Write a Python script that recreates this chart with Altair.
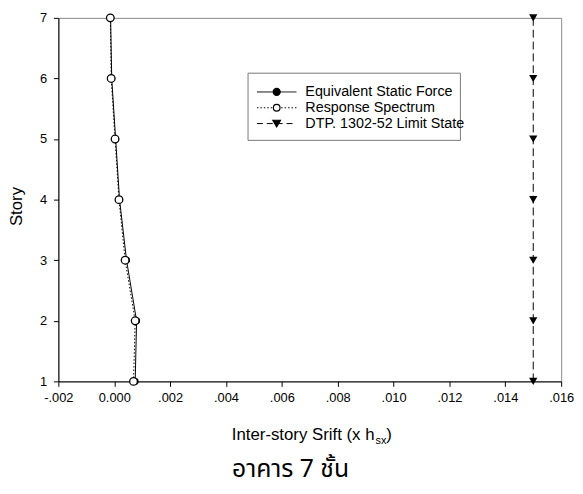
import altair as alt
import pandas as pd

# ---------------- data ----------------
stories = [1, 2, 3, 4, 5, 6, 7]
esf_drift = [0.00075, 0.00080, 0.00044, 0.00019, 0.00005, -0.00009, -0.00013]
rs_drift = [0.00069, 0.00075, 0.00039, 0.00017, 0.00003, -0.00011, -0.00014]
limit_drift = [0.015, 0.015, 0.015, 0.015, 0.015, 0.015, 0.015]

series_names = ["Equivalent Static Force", "Response Spectrum", "DTP. 1302-52 Limit State"]

x_ticks = [-0.002, 0.0, 0.002, 0.004, 0.006, 0.008, 0.010, 0.012, 0.014, 0.016]
x_tick_labels = ["-.002", "0.000", ".002", ".004", ".006", ".008", ".010", ".012", ".014", ".016"]
y_ticks = [1, 2, 3, 4, 5, 6, 7]

x_title_main = "Inter-story Srift (x h"
x_title_sub = "sx"
x_title_end = ")"
y_title = "Story"
chart_title = "อาคาร 7 ชั้น"

FONT = "Liberation Sans"
W, H = 509, 368

esf = pd.DataFrame({"story": stories, "drift": esf_drift})
rs = pd.DataFrame({"story": stories, "drift": rs_drift})
lim = pd.DataFrame({"story": stories, "drift": limit_drift})

# label expression built from the tick lists
expr = "''"
for v, lab in reversed(list(zip(x_ticks, x_tick_labels))):
    expr = f"(abs(datum.value - ({v})) < 1e-9 ? '{lab}' : {expr})"

xscale = alt.Scale(domain=[x_ticks[0], x_ticks[-1]], nice=False, zero=False)
yscale = alt.Scale(domain=[y_ticks[0], y_ticks[-1]], nice=False, zero=False)

xaxis = alt.Axis(values=x_ticks, labelExpr=expr, title=None, grid=False,
                 tickSize=5, tickColor="black", domainColor="black",
                 labelFont=FONT, labelFontSize=13, labelColor="black",
                 labelPadding=5, labelFlush=False)
yaxis = alt.Axis(values=y_ticks, format="d", title=None, grid=False,
                 tickSize=5, tickColor="black", domainColor="black",
                 labelFont=FONT, labelFontSize=13, labelColor="black",
                 labelPadding=7)

X = alt.X("drift:Q", scale=xscale, axis=xaxis)
Y = alt.Y("story:Q", scale=yscale, axis=yaxis)

esf_line = alt.Chart(esf).mark_line(color="black", strokeWidth=1).encode(x=X, y=Y, order="story:Q")
esf_pts = alt.Chart(esf).mark_point(shape="circle", filled=True, fill="black", color="black",
                                    size=50, opacity=1).encode(x=X, y=Y)
rs_line = alt.Chart(rs).mark_line(color="black", strokeWidth=1, strokeDash=[1.5, 2]).encode(x=X, y=Y, order="story:Q")
rs_pts = alt.Chart(rs).mark_point(shape="circle", filled=False, fill="white", stroke="black",
                                  strokeWidth=1.3, size=60, opacity=1, fillOpacity=1).encode(x=X, y=Y)
lim_line = alt.Chart(lim).mark_line(color="black", strokeWidth=1, strokeDash=[8, 4]).encode(x=X, y=Y, order="story:Q")
lim_pts = alt.Chart(lim).mark_point(shape="triangle-down", filled=True, fill="black", color="black",
                                    size=70, opacity=1).encode(x=X, y=Y)

layers = [esf_line, esf_pts, rs_line, rs_pts, lim_line, lim_pts]

# ---------------- legend (drawn by hand) ----------------
one = pd.DataFrame({"a": [0]})
box = alt.Chart(one).mark_rect(fill="white", stroke="#777", strokeWidth=1).encode(
    x=alt.value(192), x2=alt.value(407), y=alt.value(56), y2=alt.value(124))
layers.append(box)
styles = [
    dict(dash=[1, 0], shape="circle", fill="black", size=50),
    dict(dash=[1.5, 2], shape="circle", fill="white", size=45),
    dict(dash=[6, 4], shape="triangle-down", fill="black", size=60),
]
row_y = [75, 91, 107]
for name, st, ry in zip(series_names, styles, row_y):
    layers.append(alt.Chart(one).mark_rule(color="black", strokeWidth=1, strokeDash=st["dash"]).encode(
        x=alt.value(201), x2=alt.value(241), y=alt.value(ry)))
    layers.append(alt.Chart(one).mark_point(shape=st["shape"], filled=True, fill=st["fill"], stroke="black",
                                            strokeWidth=1.2, size=st["size"], opacity=1).encode(
        x=alt.value(221), y=alt.value(ry)))
    layers.append(alt.Chart(one).mark_text(text=name, font=FONT, fontSize=14.5, align="left",
                                           baseline="middle", color="black").encode(
        x=alt.value(250), y=alt.value(ry)))

# ---------------- titles ----------------
layers.append(alt.Chart(one).mark_text(text=x_title_main, font=FONT, fontSize=17, align="right",
                                       baseline="alphabetic", color="black").encode(
    x=alt.value(320), y=alt.value(427)))
layers.append(alt.Chart(one).mark_text(text=x_title_sub, font=FONT, fontSize=11, align="left",
                                       baseline="alphabetic", color="black").encode(
    x=alt.value(321), y=alt.value(431)))
layers.append(alt.Chart(one).mark_text(text=x_title_end, font=FONT, fontSize=17, align="left",
                                       baseline="alphabetic", color="black").encode(
    x=alt.value(332), y=alt.value(427)))
layers.append(alt.Chart(one).mark_text(text=y_title, font=FONT, fontSize=17, align="center",
                                       baseline="middle", angle=270, color="black").encode(
    x=alt.value(-42), y=alt.value(191)))
layers.append(alt.Chart(one).mark_text(text=chart_title, font="Tahoma, 'Noto Sans Thai', 'Loma', 'Garuda', sans-serif",
                                       fontSize=25, align="center", baseline="alphabetic", color="black").encode(
    x=alt.value(235), y=alt.value(465)))

chart = alt.layer(*layers).properties(
    width=W, height=H,
    autosize=alt.AutoSizeParams(type="none"),
    padding={"left": 51, "top": 7, "right": 14, "bottom": 110},
).configure_view(stroke="#888", strokeWidth=1)

chart.save("out.html", embed_options={"renderer": "svg", "actions": False})
